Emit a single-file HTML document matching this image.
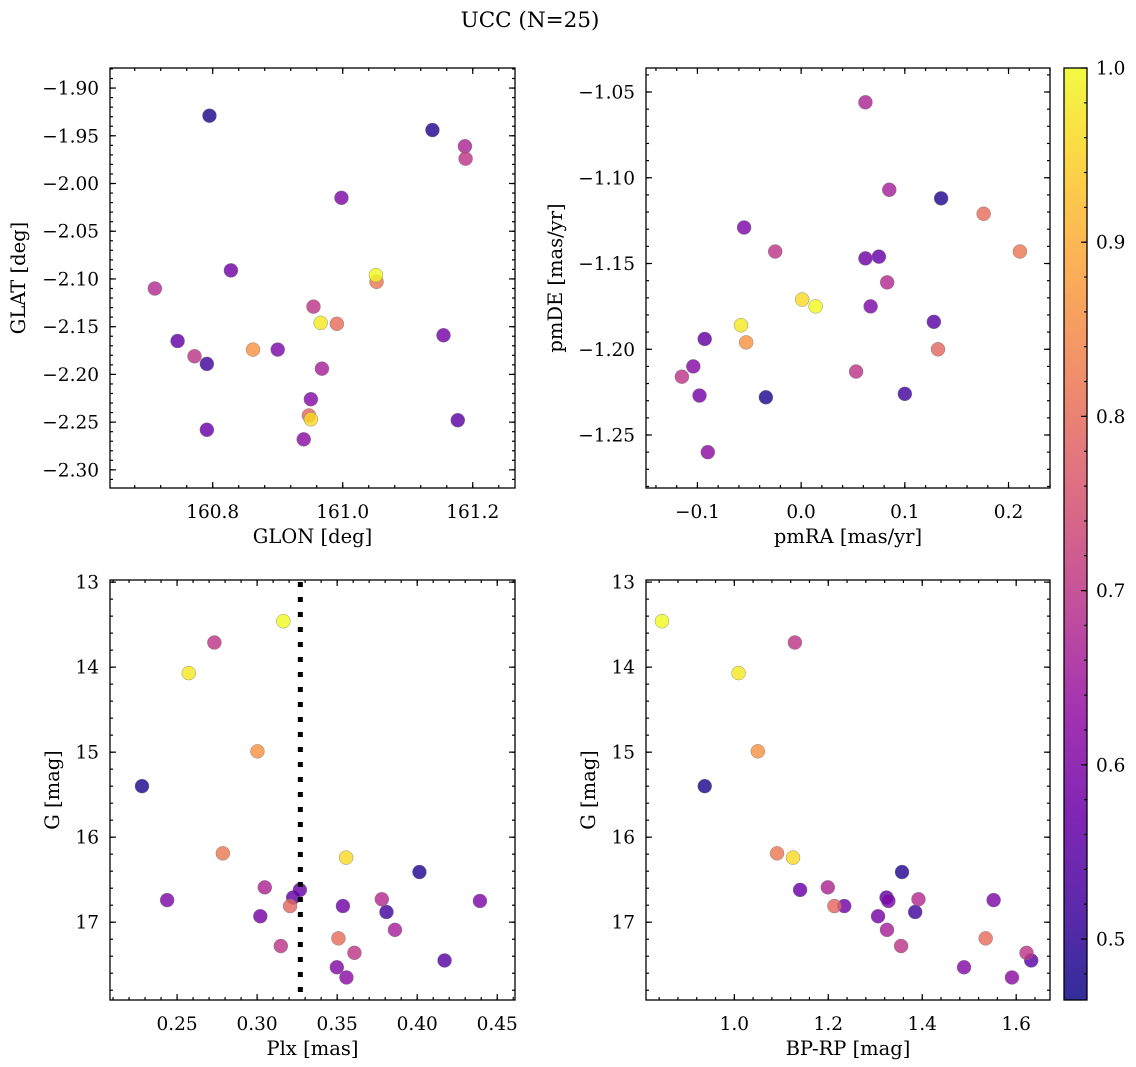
<!DOCTYPE html>
<html><head><meta charset="utf-8">
<style>
html,body{margin:0;padding:0;background:#fff;}
svg{display:block;font-family:"DejaVu Serif","Liberation Serif",serif;}
</style></head>
<body>
<svg id="fig" width="1136" height="1067" viewBox="0 0 1136 1067" xmlns="http://www.w3.org/2000/svg">
<text x="530" y="27" font-size="21.5" text-anchor="middle">UCC (N=25)</text>
</svg>
<script>
// Star data (one entry per star)
const prob = [1.0,0.70,0.98,0.86,0.48,0.82,0.96,0.49,0.67,0.60,0.57,0.56,0.79,0.58,0.68,0.52,0.60,0.59,0.66,0.70,0.80,0.70,0.55,0.61,0.62];
const gmag = [13.46,13.71,14.07,14.99,15.40,16.19,16.24,16.41,16.59,16.74,16.62,16.71,16.81,16.81,16.73,16.88,16.75,16.93,17.09,17.28,17.19,17.36,17.45,17.53,17.65];
const plx = [0.3164,0.2733,0.2573,0.3002,0.2281,0.2786,0.3556,0.4014,0.3048,0.2438,0.3267,0.3225,0.3206,0.3536,0.3779,0.3808,0.4392,0.302,0.3861,0.3148,0.3508,0.3608,0.4171,0.3498,0.3558];
const bprp = [0.846,1.129,1.009,1.050,0.937,1.091,1.125,1.357,1.199,1.552,1.140,1.324,1.213,1.234,1.392,1.385,1.328,1.306,1.325,1.355,1.535,1.622,1.632,1.489,1.591];
const glon = [161.051,161.189,160.966,160.862,160.795,161.052,160.951,161.138,161.188,160.998,160.791,160.746,160.948,160.828,160.711,160.791,160.900,161.155,160.968,160.955,160.991,160.772,161.177,160.951,160.940];
const glat = [-2.096,-1.974,-2.146,-2.174,-1.929,-2.103,-2.247,-1.944,-1.961,-2.015,-2.258,-2.165,-2.243,-2.091,-2.110,-2.189,-2.174,-2.159,-2.194,-2.129,-2.147,-2.181,-2.248,-2.226,-2.268];
const pmra = [0.014,-0.025,-0.058,-0.053,-0.034,0.211,0.001,0.135,0.062,-0.055,0.075,-0.093,0.132,0.062,0.083,0.100,0.067,-0.098,0.085,-0.115,0.176,0.053,0.128,-0.104,-0.090];
const pmde = [-1.175,-1.143,-1.186,-1.196,-1.228,-1.143,-1.171,-1.112,-1.056,-1.129,-1.146,-1.194,-1.200,-1.147,-1.161,-1.226,-1.175,-1.227,-1.107,-1.216,-1.121,-1.213,-1.184,-1.210,-1.260];
const plxLine = 0.327;
const cbTicks = [0.5,0.6,0.7,0.8,0.9,1.0];
const xTicks1 = [160.8,161.0,161.2], yTicks1 = [-1.90,-1.95,-2.00,-2.05,-2.10,-2.15,-2.20,-2.25,-2.30];
const xTicks2 = [-0.1,0.0,0.1,0.2], yTicks2 = [-1.05,-1.10,-1.15,-1.20,-1.25];
const xTicks3 = [0.25,0.30,0.35,0.40,0.45], yTicksG = [13,14,15,16,17];
const xTicks4 = [1.0,1.2,1.4,1.6];

const NS='http://www.w3.org/2000/svg';
const svg=document.getElementById('fig');
function el(tag,attrs,parent){const e=document.createElementNS(NS,tag);for(const k in attrs)e.setAttribute(k,attrs[k]);(parent||svg).appendChild(e);return e;}

const stops=[[0,'#0d0887'],[0.1,'#41049d'],[0.2,'#6a00a8'],[0.3,'#8f0da4'],[0.4,'#b12a90'],[0.5,'#cc4778'],[0.6,'#e16462'],[0.7,'#f2844b'],[0.8,'#fca636'],[0.9,'#fcce25'],[1,'#f0f921']];
function hx(c){return [1,3,5].map(i=>parseInt(c.substr(i,2),16));}
function plasma(t){t=Math.max(0,Math.min(1,t));for(let i=0;i<stops.length-1;i++){if(t<=stops[i+1][0]){const f=(t-stops[i][0])/(stops[i+1][0]-stops[i][0]);const a=hx(stops[i][1]),b=hx(stops[i+1][1]);return 'rgb('+a.map((v,j)=>Math.round(v+(b[j]-v)*f)).join(',')+')';}}return stops[10][1];}
const vmin=0.465,vmax=1.0;

function fmt(v,d){let s=v.toFixed(d);if(s.startsWith('-'))s='\u2212'+s.slice(1);return s;}

function panel(name,box,xr,yr,xt,yt,xminor,yminor,xd,yd,xlab,ylab,xs,ys,yoff){
  const [L,T,R,B]=box;
  const g=el('g',{});
  
  
  const X=v=>L+(v-xr[0])/(xr[1]-xr[0])*(R-L);
  const Y=v=>T+(v-yr[0])/(yr[1]-yr[0])*(B-T);
  const tk=el('g',{stroke:'#000','stroke-width':1.2},g);
  
  
  const xlo=Math.min(...xr),xhi=Math.max(...xr),ylo=Math.min(...yr),yhi=Math.max(...yr);
  for(let v=Math.ceil(xlo/xminor-1e-6)*xminor;v<=xhi+1e-9;v+=xminor){const x=X(v);el('line',{x1:x,y1:B,x2:x,y2:B-3},tk);el('line',{x1:x,y1:T,x2:x,y2:T+3},tk);}
  for(let v=Math.ceil(ylo/yminor-1e-6)*yminor;v<=yhi+1e-9;v+=yminor){const y=Y(v);el('line',{x1:L,y1:y,x2:L+3,y2:y},tk);el('line',{x1:R,y1:y,x2:R-3,y2:y},tk);}
  xt.forEach(v=>{const x=X(v);el('line',{x1:x,y1:B,x2:x,y2:B-6},tk);el('line',{x1:x,y1:T,x2:x,y2:T+6},tk);
    const t=el('text',{x:x,y:B+30,'font-size':18.5,'text-anchor':'middle'},g);t.textContent=fmt(v,xd);
    });
  yt.forEach(v=>{const y=Y(v);el('line',{x1:L,y1:y,x2:L+6,y2:y},tk);el('line',{x1:R,y1:y,x2:R-6,y2:y},tk);
    const t=el('text',{x:L-11,y:y+6.5,'font-size':18.5,'text-anchor':'end'},g);t.textContent=fmt(v,yd);
    });
  const idx=prob.map((p,i)=>i).sort((a,b)=>prob[a]-prob[b]);
  idx.forEach(i=>{const c=el('circle',{cx:X(xs[i]),cy:Y(ys[i]),r:7,fill:plasma((prob[i]-vmin)/(vmax-vmin)),'fill-opacity':0.82,stroke:'#777','stroke-width':0.4},g);
    
    });
  const fr=el('rect',{x:L,y:T,width:R-L,height:B-T,fill:'none',stroke:'#000','stroke-width':1.3},g);
  
  
  const xl=el('text',{x:(L+R)/2,y:B+55,'font-size':19.5,'text-anchor':'middle'},g);xl.textContent=xlab;
  
  
  const yx=L-yoff;
  const yl=el('text',{x:yx,y:(T+B)/2,'font-size':19.5,'text-anchor':'middle',transform:'rotate(-90 '+yx+' '+(T+B)/2+')'},g);yl.textContent=ylab;
  
  
  return {X,Y,g};
}

panel('panel-glon-glat',[110,68,515,488],[160.642,161.265],[-1.879,-2.319],xTicks1,yTicks1,0.04,0.01,1,2,'GLON [deg]','GLAT [deg]',glon,glat,85);
panel('panel-pm',[646,68,1050,488],[-0.1496,0.2400],[-1.036,-1.2809],xTicks2,yTicks2,0.02,0.01,1,2,'pmRA [mas/yr]','pmDE [mas/yr]',pmra,pmde,84);
const p3=panel('panel-plx-g',[110,580,515,1000],[0.2081,0.4611],[12.975,17.915],xTicks3,yTicksG,0.01,0.2,2,0,'Plx [mas]','G [mag]',plx,gmag,51);
panel('panel-cmd',[646,580,1050,1000],[0.812,1.672],[12.975,17.915],xTicks4,yTicksG,0.04,0.2,1,0,'BP-RP [mag]','G [mag]',bprp,gmag,51);

const dl=el('line',{x1:p3.X(plxLine),y1:582,x2:p3.X(plxLine),y2:1000,stroke:'#000','stroke-width':5,'stroke-dasharray':'5,10'});



const cb=el('g',{});


const defs=el('defs',{},cb);
const grad=el('linearGradient',{id:'cbg',x1:0,y1:1,x2:0,y2:0},defs);
for(let k=0;k<=20;k++){el('stop',{offset:k/20,'stop-color':plasma(k/20),'stop-opacity':0.85},grad);}
const cT=68,cB=1000,cL=1064,cR=1087;
const CY=v=>cB-(v-vmin)/(vmax-vmin)*(cB-cT);
el('rect',{x:cL,y:cT,width:cR-cL,height:cB-cT,fill:'url(#cbg)',stroke:'#000','stroke-width':1.3},cb);
for(let v=0.48;v<=1.0001;v+=0.02){el('line',{x1:cR,y1:CY(v),x2:cR-3,y2:CY(v),stroke:'#000','stroke-width':1.1},cb);}
cbTicks.forEach(v=>{const y=CY(v);el('line',{x1:cR,y1:y,x2:cR-6,y2:y,stroke:'#000','stroke-width':1.2},cb);
  const t=el('text',{x:cR+9,y:y+6.5,'font-size':18.5},cb);t.textContent=v.toFixed(1);
  
  });
</script>
</body></html>
